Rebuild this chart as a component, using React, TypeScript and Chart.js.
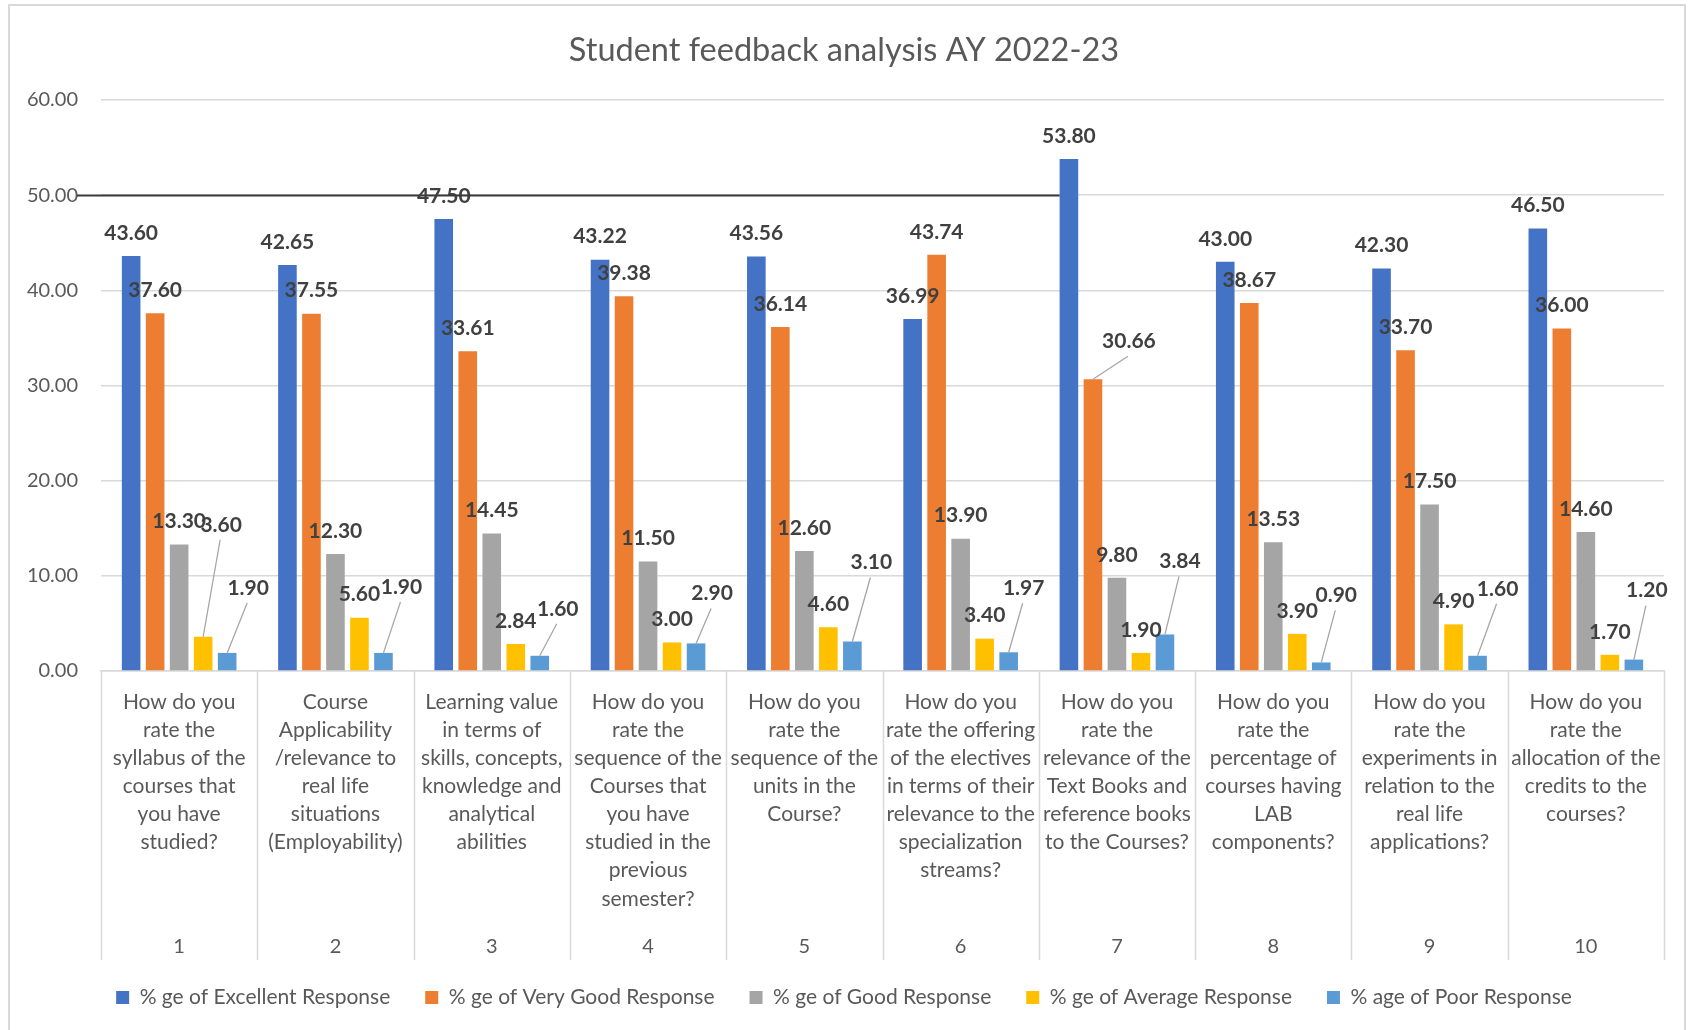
import React, { useEffect, useRef } from "react";
import { Chart, registerables } from "chart.js";

Chart.register(...registerables);

// ---------------- data ----------------
const TITLE = "Student feedback analysis AY 2022-23";

const questionNumbers = ["1", "2", "3", "4", "5", "6", "7", "8", "9", "10"];

const questions: string[][] = [
  ["How do you", "rate the", "syllabus of the", "courses that", "you have", "studied?"],
  ["Course", "Applicability", "/relevance to", "real life", "situations", "(Employability)"],
  ["Learning value", "in terms of", "skills, concepts,", "knowledge and", "analytical", "abilities"],
  ["How do you", "rate the", "sequence of the", "Courses that", "you have", "studied in the", "previous", "semester?"],
  ["How do you", "rate the", "sequence of the", "units in the", "Course?"],
  ["How do you", "rate the offering", "of the electives", "in terms of their", "relevance to the", "specialization", "streams?"],
  ["How do you", "rate the", "relevance of the", "Text Books and", "reference books", "to the Courses?"],
  ["How do you", "rate the", "percentage of", "courses having", "LAB", "components?"],
  ["How do you", "rate the", "experiments in", "relation to the", "real life", "applications?"],
  ["How do you", "rate the", "allocation of the", "credits to the", "courses?"],
];

const seriesNames = [
  "% ge of Excellent Response",
  "% ge of Very Good Response",
  "% ge of Good Response",
  "% ge of Average Response",
  "% age of Poor Response",
];

const excellent = [43.6, 42.65, 47.5, 43.22, 43.56, 36.99, 53.8, 43.0, 42.3, 46.5];
const veryGood = [37.6, 37.55, 33.61, 39.38, 36.14, 43.74, 30.66, 38.67, 33.7, 36.0];
const good = [13.3, 12.3, 14.45, 11.5, 12.6, 13.9, 9.8, 13.53, 17.5, 14.6];
const average = [3.6, 5.6, 2.84, 3.0, 4.6, 3.4, 1.9, 3.9, 4.9, 1.7];
const poor = [1.9, 1.9, 1.6, 2.9, 3.1, 1.97, 3.84, 0.9, 1.6, 1.2];

const Y_MIN = 0;
const Y_MAX = 60;
const Y_STEP = 10;
const REFERENCE_LINE_VALUE = 50;

// ---------------- styles ----------------
const seriesColors = ["#4472C4", "#ED7D31", "#A5A5A5", "#FFC000", "#5B9BD5"];
const TEXT = "#595959";
const LABEL_TEXT = "#404040";
const GRID = "#d9d9d9";
const FONT = "Lato";

// manual label displacements (px) used in the original, per series / category
const Z: [number, number] = [0, 0];
const labelShift: [number, number][][] = [
  [Z, Z, Z, Z, Z, Z, Z, Z, Z, Z],
  [Z, Z, Z, Z, Z, Z, [36, -15], Z, Z, Z],
  [Z, Z, Z, Z, Z, Z, Z, Z, Z, Z],
  [[18, -89], Z, Z, Z, Z, Z, Z, Z, Z, Z],
  [[21, -42], [18, -43], [18, -24], [16, -27], [19, -56], [15, -41], [15, -50], [15, -44], [20, -44], [13, -46]],
];

const seriesValues = [excellent, veryGood, good, average, poor];

const LABEL_GAP = 23;
const SEPARATOR_DEPTH = 289;
const NUMBER_ROW = 276;

const valueLabelPlugin = {
  id: "valueLabels",
  afterDatasetsDraw(chart: any) {
    const ctx = chart.ctx;
    ctx.save();
    ctx.font = `bold 21px ${FONT}`;
    ctx.textAlign = "center";
    ctx.textBaseline = "middle";
    chart.data.datasets.forEach((ds: any, i: number) => {
      const meta = chart.getDatasetMeta(i);
      meta.data.forEach((bar: any, j: number) => {
        const [dx, dy] = labelShift[i][j];
        const lx = bar.x + dx;
        const ly = bar.y - LABEL_GAP + dy;
        if (dx !== 0 || dy !== 0) {
          ctx.strokeStyle = "#a6a6a6";
          ctx.lineWidth = 1.3;
          ctx.beginPath();
          ctx.moveTo(lx - 1, ly + 15);
          ctx.lineTo(bar.x, bar.y);
          ctx.stroke();
        }
        ctx.fillStyle = LABEL_TEXT;
        ctx.fillText(Number(ds.data[j]).toFixed(2), lx, ly);
      });
    });
    ctx.restore();
  },
};

const categoryAxisPlugin = {
  id: "categoryAxisExtras",
  afterDraw(chart: any) {
    const ctx = chart.ctx;
    const xs = chart.scales.x;
    const ys = chart.scales.y;
    ctx.save();
    // category separators
    ctx.strokeStyle = GRID;
    ctx.lineWidth = 1.5;
    for (let i = 0; i <= questions.length; i++) {
      const px = Math.round(xs.getPixelForValue(i - 0.5)) + 0.5;
      ctx.beginPath();
      ctx.moveTo(px, xs.top);
      ctx.lineTo(px, xs.top + SEPARATOR_DEPTH);
      ctx.stroke();
    }
    // outer level: question numbers
    ctx.fillStyle = TEXT;
    ctx.font = `20px ${FONT}`;
    ctx.textAlign = "center";
    ctx.textBaseline = "middle";
    questionNumbers.forEach((n, i) => {
      ctx.fillText(n, xs.getPixelForValue(i), xs.top + NUMBER_ROW);
    });
    // reference line at 50
    const meta0 = chart.getDatasetMeta(0);
    const maxIdx = excellent.indexOf(Math.max(...excellent));
    const bar = meta0.data[maxIdx];
    const y = Math.round(ys.getPixelForValue(REFERENCE_LINE_VALUE)) + 0.5;
    ctx.strokeStyle = "#3a3a3a";
    ctx.lineWidth = 2;
    ctx.beginPath();
    ctx.moveTo(ys.right - ys.options.ticks.padding - 1, y);
    ctx.lineTo(bar.x - bar.width / 2, y);
    ctx.stroke();
    ctx.restore();
  },
};

export default function App() {
  const ref = useRef<HTMLCanvasElement | null>(null);

  useEffect(() => {
    if (!ref.current) return;
    const chart = new Chart(ref.current, {
      type: "bar",
      data: {
        labels: questions as any,
        datasets: seriesNames.map((name, i) => ({
          label: name,
          data: seriesValues[i],
          backgroundColor: seriesColors[i],
          borderWidth: 0,
          categoryPercentage: 0.768,
          barPercentage: 0.775,
        })),
      },
      options: {
        responsive: false,
        animation: false,
        events: [],
        layout: { padding: { left: 24, right: 27, top: 0, bottom: 12 } },
        plugins: {
          title: {
            display: true,
            text: TITLE,
            color: TEXT,
            font: { family: FONT, size: 32.5, weight: "normal" },
            padding: { top: 31, bottom: 30 },
          },
          legend: {
            position: "bottom",
            labels: {
              boxWidth: 13,
              boxHeight: 13,
              padding: 35,
              color: TEXT,
              font: { family: FONT, size: 21 },
            },
          },
          tooltip: { enabled: false },
        },
        scales: {
          x: {
            grid: { display: false, drawTicks: false },
            border: { display: true, color: GRID, width: 1.5 },
            ticks: {
              autoSkip: false,
              maxRotation: 0,
              minRotation: 0,
              padding: 17,
              color: TEXT,
              font: { family: FONT, size: 21, lineHeight: 1.338 },
            },
            afterFit: (s: any) => {
              s.height = 281;
            },
          },
          y: {
            min: Y_MIN,
            max: Y_MAX,
            ticks: {
              stepSize: Y_STEP,
              padding: 23,
              color: TEXT,
              font: { family: FONT, size: 20 },
              callback: (v: any) => Number(v).toFixed(2),
            },
            grid: { color: GRID, lineWidth: 1.5, drawTicks: false },
            border: { display: false },
            afterFit: (s: any) => {
              s.width = 77;
            },
          },
        },
      },
      plugins: [valueLabelPlugin, categoryAxisPlugin],
    });
    return () => chart.destroy();
  }, []);

  return (
    <div
      style={{
        position: "fixed",
        left: 0,
        top: 0,
        width: 1691,
        height: 1030,
        overflow: "hidden",
        background: "#ffffff",
      }}
    >
      <div
        style={{
          position: "absolute",
          left: 8,
          top: 4,
          width: 1678,
          height: 1060,
          border: "2px solid #d9d9d9",
          boxSizing: "border-box",
        }}
      />
      <canvas
        ref={ref}
        width={1691}
        height={1030}
        style={{ position: "absolute", left: 0, top: 0, width: 1691, height: 1030 }}
      />
    </div>
  );
}
